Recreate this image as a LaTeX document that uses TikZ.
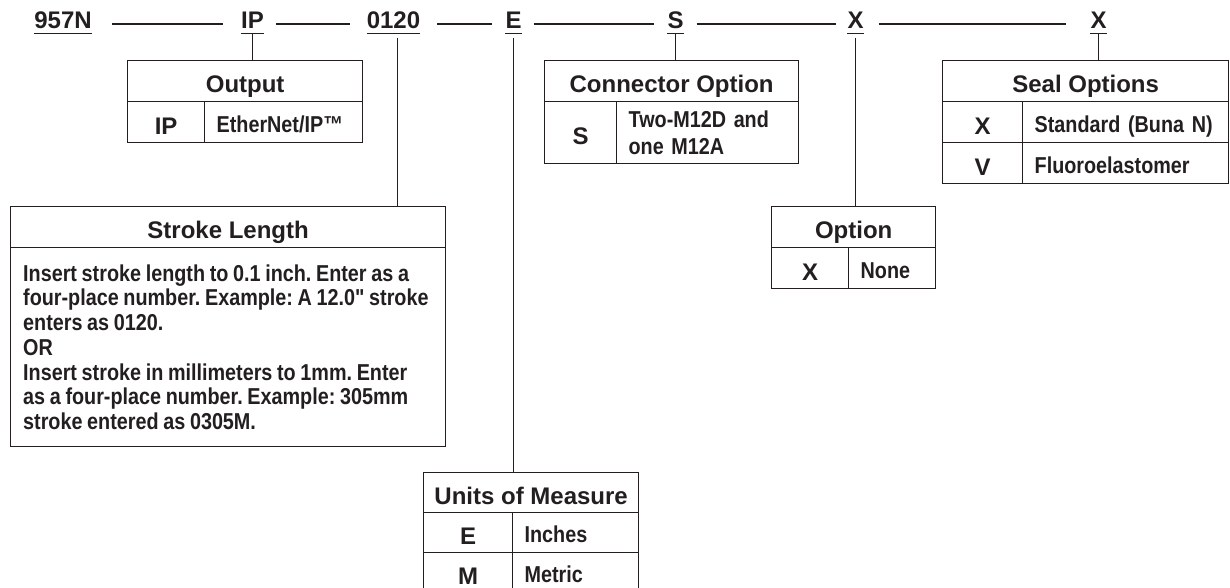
\documentclass[tikz,border=0pt]{standalone}
\usepackage{fontspec}
\setmainfont{Liberation Sans}
\newfontfamily\narrowfam{Liberation Sans}[FakeStretch=0.86, WordSpace=0.85]
\definecolor{ink}{RGB}{35,31,32}
\frenchspacing
\newcommand\myhead{\fontsize{24}{26}\selectfont\bfseries}
\newcommand\mydesc{\narrowfam\fontsize{23}{27}\selectfont\bfseries\frenchspacing}
\newcommand\mybody{\narrowfam\fontsize{23}{24.7}\selectfont\bfseries\frenchspacing}
\begin{document}
\begin{tikzpicture}[x=1pt,y=-1pt,
  cell/.style={draw=ink, line width=1.3pt, inner sep=0pt, anchor=north west, text=ink},
  hd/.style={cell, font=\myhead, text height=23.2pt, text depth=0pt},
  cd/.style={cell, font=\myhead, text height=24pt, text depth=0pt},
  ds/.style={cell, font=\mydesc, align=left, inner xsep=12pt, text width=#1, text height=20.5pt, text depth=0pt},
  dstwo/.style={cell, font=\mydesc, align=left, inner xsep=12pt, text width=#1},
  code/.style={font=\myhead, text=ink, inner sep=0pt, anchor=base, text height=14.5pt, text depth=4.5pt},
  ul/.style={draw=ink, line width=1.5pt},
  conn/.style={draw=ink, line width=1.3pt},
]
\useasboundingbox (0,0) rectangle (1230,588);
\fill[white] (0,0) rectangle (1230,588);
\clip (0,0) rectangle (1230,588);

% top code row
\node[code] (c957) at (63,29) {957N};
\node[code] (cIP) at (252.5,29) {IP};
\node[code] (c0120) at (393.5,29) {0120};
\node[code] (cE) at (513.5,29) {E};
\node[code] (cS) at (675.5,29) {S};
\node[code] (cXa) at (855.5,29) {X};
\node[code] (cXb) at (1098.5,29) {X};
\foreach \n in {c957,cIP,c0120,cE,cS,cXa,cXb}
  \draw[ul] (\n.south west) -- (\n.south east);

\draw[conn, shorten <=20pt, shorten >=18pt] (c957) -- (cIP);
\draw[conn, shorten <=12pt, shorten >=17pt] (cIP) -- (c0120);
\draw[conn, shorten <=17pt, shorten >=13pt] (c0120) -- (cE);
\draw[conn, shorten <=12pt, shorten >=13pt] (cE) -- (cS);
\draw[conn, shorten <=13pt, shorten >=11pt] (cS) -- (cXa);
\draw[conn, shorten <=15pt, shorten >=24pt] (cXa) -- (cXb);

% Output table
\node[hd, minimum width=235pt, minimum height=41pt] (outH) at (127,60) {Output};
\node[cd, minimum width=77pt, minimum height=41pt] (outC) at (127,101) {IP};
\node[ds=134pt, minimum height=41pt] (outD) at (204,101) {EtherNet/IP™};

% Connector option table
\node[hd, minimum width=254pt, minimum height=41pt] (conH) at (544,60) {Connector Option};
\node[cd, minimum width=72pt, minimum height=62pt] (conC) at (544,101) {S};
\node[dstwo=158pt, minimum height=62pt] (conD) at (616,101) {Two-M12D and\\one M12A};

% Seal options table
\node[hd, minimum width=286pt, minimum height=41pt] (sealH) at (942,60) {Seal Options};
\node[cd, minimum width=80pt, minimum height=41pt] (sealCa) at (942,101) {X};
\node[ds=182pt, minimum height=41pt] (sealDa) at (1022,101) {Standard (Buna N)};
\node[cd, minimum width=80pt, minimum height=41pt] (sealCb) at (942,142) {V};
\node[ds=182pt, minimum height=41pt] (sealDb) at (1022,142) {Fluoroelastomer};

% Stroke length table
\node[hd, minimum width=435pt, minimum height=41pt] (strH) at (10,206) {Stroke Length};
\node[cell, minimum width=435pt, minimum height=199pt] (strB) at (10,247) {};
\node[font=\mybody, text=ink, align=left, inner sep=0pt, anchor=west] (strT) at ([xshift=13pt]strB.west)
  {Insert stroke length to 0.1 inch. Enter as a\\
   four-place number. Example: A 12.0" stroke\\
   enters as 0120.\\
   OR\\
   Insert stroke in millimeters to 1mm. Enter\\
   as a four-place number. Example: 305mm\\
   stroke entered as 0305M.};

% Option table
\node[hd, minimum width=164pt, minimum height=41pt] (optH) at (771,206) {Option};
\node[cd, minimum width=77pt, minimum height=41pt] (optC) at (771,247) {X};
\node[ds=63pt, minimum height=41pt] (optD) at (848,247) {None};

% Units of measure table
\node[hd, minimum width=215pt, minimum height=40pt] (uniH) at (423,472) {Units of Measure};
\node[cd, minimum width=89pt, minimum height=40pt] (uniCa) at (423,512) {E};
\node[ds=102pt, minimum height=40pt] (uniDa) at (512,512) {Inches};
\node[cd, minimum width=89pt, minimum height=40pt] (uniCb) at (423,552) {M};
\node[ds=102pt, minimum height=40pt] (uniDb) at (512,552) {Metric};

% vertical connectors
\draw[conn] (cIP.south) -- (cIP.south |- outH.north);
\draw[conn] ([xshift=4pt,yshift=-4pt]c0120.south) -- ([xshift=4pt]c0120.south |- strH.north);
\draw[conn] ([yshift=-4pt]cE.south) -- (cE.south |- uniH.north);
\draw[conn] (cS.south) -- (cS.south |- conH.north);
\draw[conn] ([yshift=-4pt]cXa.south) -- (cXa.south |- optH.north);
\draw[conn] (cXb.south) -- (cXb.south |- sealH.north);
\end{tikzpicture}
\end{document}
